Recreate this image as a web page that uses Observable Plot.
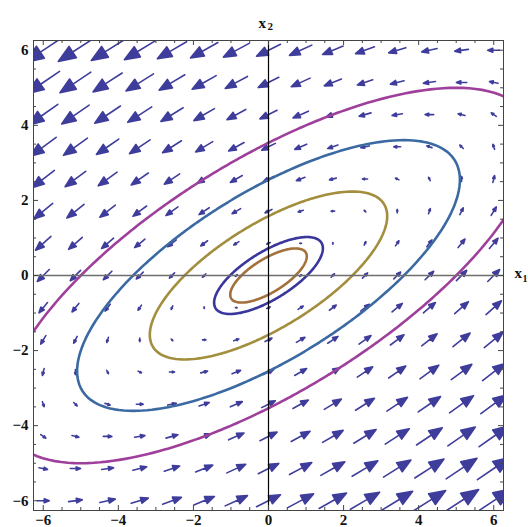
<!DOCTYPE html>
<html>
<head>
<meta charset="utf-8">
<script src="https://cdn.jsdelivr.net/npm/d3@7"></script>
<script src="https://cdn.jsdelivr.net/npm/@observablehq/plot@0.6"></script>
<style>
  html, body { margin: 0; padding: 0; background: #ffffff; }
  #chart { width: 528px; height: 527px; overflow: hidden; }
</style>
</head>
<body>
<div id="chart"></div>
<script>
// ---- data ----
const domainLimit = 6.26;                         // plot range ±
const majorTicks = [-6, -4, -2, 0, 2, 4, 6];
const minorTicks = [-5.5, -5, -4.5, -3.5, -3, -2.5, -1.5, -1, -0.5, 0.5, 1, 1.5, 2.5, 3, 3.5, 4.5, 5, 5.5];
const gridValues = [-6, -5.143, -4.286, -3.429, -2.571, -1.714, -0.857, 0, 0.857, 1.714, 2.571, 3.429, 4.286, 5.143, 6];
const fieldRowX = [2, -4];   // dx/dt = 2x - 4y
const fieldRowY = [2, -2];   // dy/dt = 2x - 2y
const contourForm = [1, -2, 2];                 // a x^2 + b xy + c y^2
const contourLevels = [25, 13, 5, 1.05, 0.52];
const contourColors = ["#9e3f9c", "#3b6aa3", "#a28e3d", "#3a379c", "#a4703c"];
const arrowColor = "#3f3d9b";
const textColor = "#111111";

// ---- derived ----
const vectors = gridValues.flatMap(x => gridValues.map(y => {
  const vx = fieldRowX[0] * x + fieldRowX[1] * y;
  const vy = fieldRowY[0] * x + fieldRowY[1] * y;
  return {x, y, mag: Math.hypot(vx, vy), angle: Math.atan2(vx, vy) * 180 / Math.PI};
}));

const ellipsePts = contourLevels.flatMap((L, i) => d3.range(0, 361).map(t => {
  const th = t * Math.PI / 180, cs = Math.cos(th), sn = Math.sin(th);
  const [a, b, c] = contourForm;
  const r = Math.sqrt(L / (a * cs * cs + b * cs * sn + c * sn * sn));
  return {x: r * cs, y: r * sn, k: i};
}));

const W = 528, H = 527;
const mL = 33, mR = 25, mT = 40, mB = 17;
const pxPerUnit = (W - mL - mR) / (2 * domainLimit);
const majorLen = 5 / pxPerUnit, minorLen = 3 / pxPerUnit;

const arrowShape = {
  draw(context, l) {
    const h = 0.42 * l, w = 0.165 * l;
    context.moveTo(0, 0);
    context.lineTo(0, -(l - h));
    context.moveTo(-w, -(l - h));
    context.lineTo(0, -l);
    context.lineTo(w, -(l - h));
    context.closePath();
  }
};

const tickRules = (ticks, len) => [
  Plot.ruleX(ticks, {x: d => d, y1: -domainLimit, y2: -domainLimit + len, stroke: "#444", strokeWidth: 1}),
  Plot.ruleX(ticks, {x: d => d, y1: domainLimit, y2: domainLimit - len, stroke: "#444", strokeWidth: 1}),
  Plot.ruleY(ticks, {y: d => d, x1: -domainLimit, x2: -domainLimit + len, stroke: "#444", strokeWidth: 1}),
  Plot.ruleY(ticks, {y: d => d, x1: domainLimit, x2: domainLimit - len, stroke: "#444", strokeWidth: 1})
];

const chart = Plot.plot({
  width: W, height: H,
  marginLeft: mL, marginRight: mR, marginTop: mT, marginBottom: mB,
  style: {fontFamily: "'Liberation Serif', serif", fontSize: "15px", color: textColor, background: "#fff", overflow: "visible"},
  x: {domain: [-domainLimit, domainLimit], label: null},
  y: {domain: [-domainLimit, domainLimit], label: null},
  length: {type: "linear", domain: [0, 1], range: [0, 1.0]},
  marks: [
    Plot.vector(vectors, {x: "x", y: "y", length: "mag", rotate: "angle", anchor: "middle",
      shape: arrowShape, stroke: arrowColor, fill: arrowColor, strokeWidth: 1.6,
      strokeLinejoin: "round", clip: true}),
    Plot.line(ellipsePts, {x: "x", y: "y", z: "k", stroke: d => contourColors[d.k], strokeWidth: 2.6, clip: true}),
    Plot.ruleY([0], {stroke: "#6e6e6e", strokeWidth: 1.4}),
    Plot.ruleX([0], {stroke: "#000", strokeWidth: 1.2}),
    ...tickRules(majorTicks, majorLen),
    ...tickRules(minorTicks, minorLen),
    Plot.frame({stroke: "#444", strokeWidth: 1}),
    Plot.axisX(majorTicks, {anchor: "bottom", tickSize: 0, tickPadding: 4, fontWeight: "bold", fill: textColor, label: null}),
    Plot.axisY(majorTicks, {anchor: "left", tickSize: 0, tickPadding: 5, fontWeight: "bold", fill: textColor, label: null}),
    Plot.text(["x"], {frameAnchor: "top", dx: -10, dy: -23, textAnchor: "start", fontSize: 15, fontWeight: "bold", fill: textColor}),
    Plot.text(["2"], {frameAnchor: "top", dx: -1, dy: -18, textAnchor: "start", fontSize: 11, fontWeight: "bold", fill: textColor}),
    Plot.text(["x"], {x: domainLimit, y: 0, dx: 11, dy: -2, textAnchor: "start", fontSize: 15, fontWeight: "bold", fill: textColor}),
    Plot.text(["1"], {x: domainLimit, y: 0, dx: 19, dy: 3, textAnchor: "start", fontSize: 10, fontWeight: "bold", fill: textColor})
  ]
});
document.getElementById("chart").append(chart);
</script>
</body>
</html>
